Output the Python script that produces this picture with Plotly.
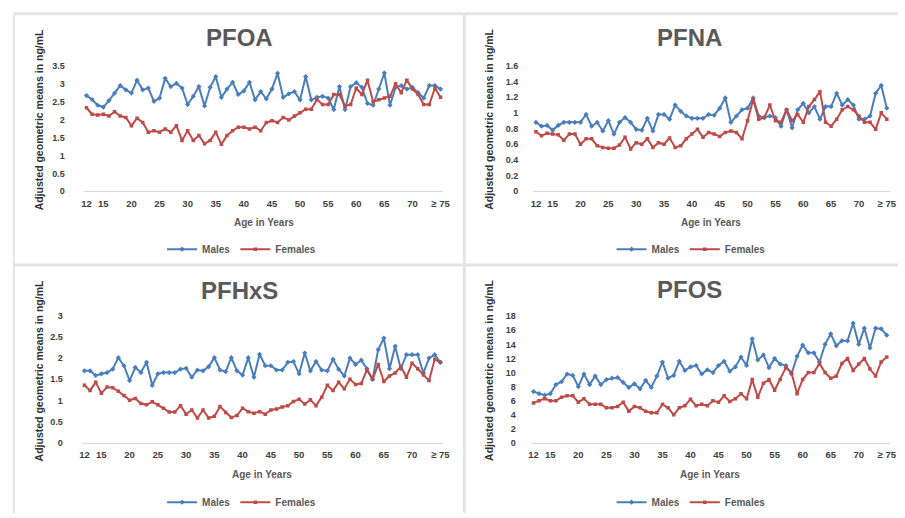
import plotly.graph_objects as go

# ---------------- data ----------------
ages = list(range(12, 76))
tick_vals = [12, 15, 20, 25, 30, 35, 40, 45, 50, 55, 60, 65, 70, 75]
tick_text = ["12", "15", "20", "25", "30", "35", "40", "45", "50", "55", "60", "65", "70", "≥ 75"]

pfoa_males = [2.67, 2.56, 2.40, 2.35, 2.53, 2.74, 2.95, 2.83, 2.74, 3.10, 2.83, 2.88, 2.51, 2.60, 3.15, 2.92,
              3.01, 2.88, 2.42, 2.65, 2.92, 2.38, 2.90, 3.20, 2.62, 2.85, 3.04, 2.70, 2.80, 3.04, 2.55, 2.78,
              2.58, 2.85, 3.29, 2.62, 2.72, 2.78, 2.55, 3.20, 2.55, 2.62, 2.65, 2.60, 2.28, 2.92, 2.28, 2.92,
              3.03, 2.90, 2.45, 2.40, 2.85, 3.30, 2.40, 2.90, 2.95, 2.85, 2.90, 2.75, 2.60, 2.95, 2.95, 2.85]
pfoa_females = [2.33, 2.15, 2.13, 2.15, 2.10, 2.22, 2.10, 2.06, 1.83, 2.04, 1.92, 1.65, 1.69, 1.65, 1.74, 1.65,
                1.83, 1.42, 1.69, 1.42, 1.56, 1.33, 1.42, 1.65, 1.31, 1.56, 1.69, 1.79, 1.79, 1.74, 1.79, 1.69,
                1.92, 1.97, 1.92, 2.06, 1.99, 2.10, 2.19, 2.29, 2.29, 2.56, 2.42, 2.42, 2.70, 2.70, 2.38, 2.42,
                2.88, 2.70, 3.10, 2.50, 2.55, 2.60, 2.65, 3.00, 2.75, 3.10, 2.85, 2.70, 2.42, 2.42, 2.88, 2.62]

pfna_males = [0.88, 0.83, 0.84, 0.78, 0.84, 0.88, 0.88, 0.88, 0.88, 0.98, 0.83, 0.88, 0.77, 0.90, 0.73, 0.88,
              0.94, 0.88, 0.79, 0.78, 0.93, 0.77, 0.98, 0.98, 0.92, 1.10, 1.02, 0.96, 0.93, 0.93, 0.93, 0.98,
              0.97, 1.06, 1.19, 0.88, 0.96, 1.04, 1.06, 1.19, 0.96, 0.94, 0.96, 0.94, 0.83, 1.04, 0.81, 1.04,
              1.12, 1.00, 1.08, 0.92, 1.08, 1.08, 1.25, 1.10, 1.17, 1.10, 0.92, 0.92, 0.96, 1.25, 1.35, 1.06]
pfna_females = [0.76, 0.71, 0.74, 0.73, 0.72, 0.65, 0.73, 0.73, 0.60, 0.67, 0.67, 0.58, 0.56, 0.55, 0.55, 0.59,
                0.69, 0.54, 0.62, 0.60, 0.67, 0.56, 0.62, 0.60, 0.68, 0.56, 0.58, 0.67, 0.73, 0.79, 0.69, 0.75,
                0.73, 0.70, 0.75, 0.77, 0.75, 0.67, 0.90, 1.17, 0.92, 0.94, 1.10, 0.90, 0.88, 1.04, 0.90, 0.98,
                0.88, 1.08, 1.17, 1.27, 0.88, 0.83, 0.92, 1.04, 1.08, 1.04, 0.96, 0.88, 0.88, 0.79, 1.00, 0.92]

pfhxs_males = [1.70, 1.70, 1.59, 1.63, 1.66, 1.74, 2.01, 1.82, 1.47, 1.78, 1.66, 1.90, 1.36, 1.63, 1.66, 1.66,
               1.66, 1.74, 1.76, 1.55, 1.72, 1.70, 1.80, 2.01, 1.72, 1.68, 2.01, 1.70, 1.60, 2.01, 1.55, 2.09,
               1.82, 1.82, 1.72, 1.72, 1.90, 1.92, 1.63, 2.12, 1.70, 1.92, 1.72, 1.70, 1.97, 1.74, 1.58, 2.00,
               1.85, 1.95, 1.75, 1.50, 2.20, 2.47, 1.75, 2.28, 1.75, 2.08, 2.08, 2.08, 1.65, 2.00, 2.08, 1.90]
pfhxs_females = [1.36, 1.24, 1.43, 1.17, 1.32, 1.30, 1.22, 1.12, 1.01, 1.05, 0.93, 0.90, 0.97, 0.90, 0.82, 0.73,
                 0.73, 0.88, 0.68, 0.78, 0.59, 0.78, 0.59, 0.63, 0.86, 0.72, 0.60, 0.65, 0.82, 0.74, 0.70, 0.74,
                 0.68, 0.78, 0.80, 0.85, 0.88, 0.98, 1.03, 0.92, 1.02, 0.88, 1.08, 1.36, 1.24, 1.43, 1.28, 1.50,
                 1.38, 1.40, 1.72, 1.50, 1.85, 1.45, 1.58, 1.65, 1.80, 1.55, 1.88, 1.75, 1.60, 1.47, 1.97, 1.90]

pfos_males = [7.3, 7.0, 6.8, 7.0, 8.3, 8.7, 9.8, 9.6, 8.0, 9.8, 8.3, 9.5, 8.3, 9.0, 9.2, 9.3,
              8.6, 7.9, 8.4, 7.7, 8.9, 7.9, 9.5, 11.5, 9.2, 9.6, 11.6, 10.3, 10.8, 11.0, 9.8, 10.4,
              10.0, 11.0, 11.6, 10.2, 10.8, 12.2, 11.0, 14.8, 11.8, 12.5, 10.7, 12.0, 11.2, 11.0, 9.8, 12.3,
              13.9, 12.8, 12.8, 11.5, 14.0, 15.5, 13.8, 14.5, 14.5, 17.0, 14.0, 16.3, 13.5, 16.3, 16.2, 15.3]
pfos_females = [5.7, 6.0, 6.3, 6.0, 6.0, 6.5, 6.7, 6.7, 5.8, 6.3, 5.5, 5.5, 5.5, 5.0, 5.0, 5.2,
                5.8, 4.5, 5.2, 5.0, 4.5, 4.3, 4.3, 5.5, 5.0, 4.0, 5.0, 5.3, 6.2, 5.3, 5.5, 5.3,
                6.0, 5.8, 6.7, 5.9, 6.3, 7.0, 6.3, 9.0, 6.5, 8.5, 9.0, 7.5, 9.0, 10.7, 10.0, 7.0,
                9.0, 10.0, 10.0, 11.3, 10.0, 9.2, 9.5, 11.3, 12.0, 10.3, 11.2, 12.0, 10.5, 9.5, 11.5, 12.2]

panel_titles = ["PFOA", "PFNA", "PFHxS", "PFOS"]
y_ranges = [[0, 3.5], [0, 1.6], [0, 3], [0, 18]]
y_dticks = [0.5, 0.2, 0.5, 2]
series_m = [pfoa_males, pfna_males, pfhxs_males, pfos_males]
series_f = [pfoa_females, pfna_females, pfhxs_females, pfos_females]

# ---------------- layout geometry ----------------
W, H = 905, 518
BLUE = "#4A7EBB"
RED = "#BE4B48"
GREY_TXT = "#595959"
TICK_TXT = "#404040"
FONT = "Liberation Sans, Arial, sans-serif"

# plot-area pixel boxes: (x0, x1, y_top, y_bottom)
boxes = [(82.5, 445.8, 62, 190), (536.5, 896.5, 62, 190),
         (80.4, 445.6, 316.7, 446.7), (534.0, 896.5, 317.3, 446.7)]
title_pos = [(240, 33), (694, 33), (240, 291), (694, 290)]
ytitle_x = [37, 492, 37, 492]
ytitle_y = [117, 117, 373, 373]
xtitle_y = [222, 222, 479, 479]
legend_pos = [(242, 249), (696, 249), (242, 507), (696, 507)]


def px(x):
    return x / W


def py(y):
    return 1 - y / H


fig = go.Figure()
ann = []
for i in range(4):
    n = "" if i == 0 else str(i + 1)
    xa, ya = "x" + n, "y" + n
    lg = "legend" + n
    fig.add_trace(go.Scatter(x=ages, y=series_m[i], name="Males", mode="lines+markers",
                             line=dict(color=BLUE, width=2),
                             marker=dict(symbol="diamond", size=4, color=BLUE),
                             xaxis=xa, yaxis=ya, legend=lg))
    fig.add_trace(go.Scatter(x=ages, y=series_f[i], name="Females", mode="lines+markers",
                             line=dict(color=RED, width=2),
                             marker=dict(symbol="square", size=3.5, color=RED),
                             xaxis=xa, yaxis=ya, legend=lg))
    x0, x1, yt, yb = boxes[i]
    xkey = "xaxis" + n
    ykey = "yaxis" + n
    fig.update_layout(**{
        xkey: dict(domain=[px(x0), px(x1)], anchor=ya, range=[11.5, 75.5],
                   tickmode="array", tickvals=tick_vals, ticktext=tick_text,
                   showline=True, linecolor="#D9D9D9", linewidth=1, showgrid=False,
                   zeroline=False, ticks="outside", ticklen=3, tickcolor="rgba(0,0,0,0)",
                   tickfont=dict(family=FONT, size=9.5, color=TICK_TXT, weight="bold")),
        ykey: dict(domain=[py(yb), py(yt)], anchor=xa, range=y_ranges[i], dtick=y_dticks[i],
                   tick0=0, showline=False, showgrid=False, zeroline=False,
                   ticks="outside", ticklen=16 if i in (0, 2) else 12, tickcolor="rgba(0,0,0,0)",
                   tickfont=dict(family=FONT, size=9, color=TICK_TXT, weight="bold")),
        lg: dict(orientation="h", x=px(legend_pos[i][0]), y=py(legend_pos[i][1]),
                 xanchor="center", yanchor="middle", itemwidth=30,
                 font=dict(family=FONT, size=10, color=GREY_TXT, weight="bold"),
                 bgcolor="rgba(0,0,0,0)", tracegroupgap=0),
    })
    ann.append(dict(text=panel_titles[i], x=px(title_pos[i][0]), y=py(title_pos[i][1]),
                    xref="paper", yref="paper", showarrow=False, xanchor="center", yanchor="middle",
                    font=dict(family=FONT, size=24, color=GREY_TXT, weight="bold")))
    ann.append(dict(text="Adjusted geometric means in ng/mL", textangle=-90,
                    x=px(ytitle_x[i]), y=py(ytitle_y[i]), xref="paper", yref="paper",
                    showarrow=False, xanchor="center", yanchor="middle",
                    font=dict(family="Liberation Sans Narrow, " + FONT, size=10.5,
                              color="#333333", weight="bold")))
    ann.append(dict(text="Age in Years", x=px((x0 + x1) / 2), y=py(xtitle_y[i]),
                    xref="paper", yref="paper", showarrow=False, xanchor="center", yanchor="middle",
                    font=dict(family=FONT, size=10, color=GREY_TXT, weight="bold")))

line_col = "#E4E4E4"
shapes = [
    dict(type="line", xref="paper", yref="paper", x0=px(12), x1=1, y0=py(9), y1=py(9),
         line=dict(color=line_col, width=3)),
    dict(type="line", xref="paper", yref="paper", x0=px(12), x1=px(12), y0=py(9), y1=0,
         line=dict(color=line_col, width=2)),
    dict(type="line", xref="paper", yref="paper", x0=px(467), x1=px(467), y0=py(9), y1=0,
         line=dict(color=line_col, width=3)),
    dict(type="line", xref="paper", yref="paper", x0=px(12), x1=1, y0=py(265), y1=py(265),
         line=dict(color=line_col, width=3)),
]

fig.update_layout(width=W, height=H, margin=dict(l=0, r=0, t=0, b=0),
                  paper_bgcolor="white", plot_bgcolor="white",
                  annotations=ann, shapes=shapes, showlegend=True)

fig.write_html("out.html", config={"displayModeBar": False},
               post_script="document.body.style.margin='0px';document.body.style.overflow='hidden';")
